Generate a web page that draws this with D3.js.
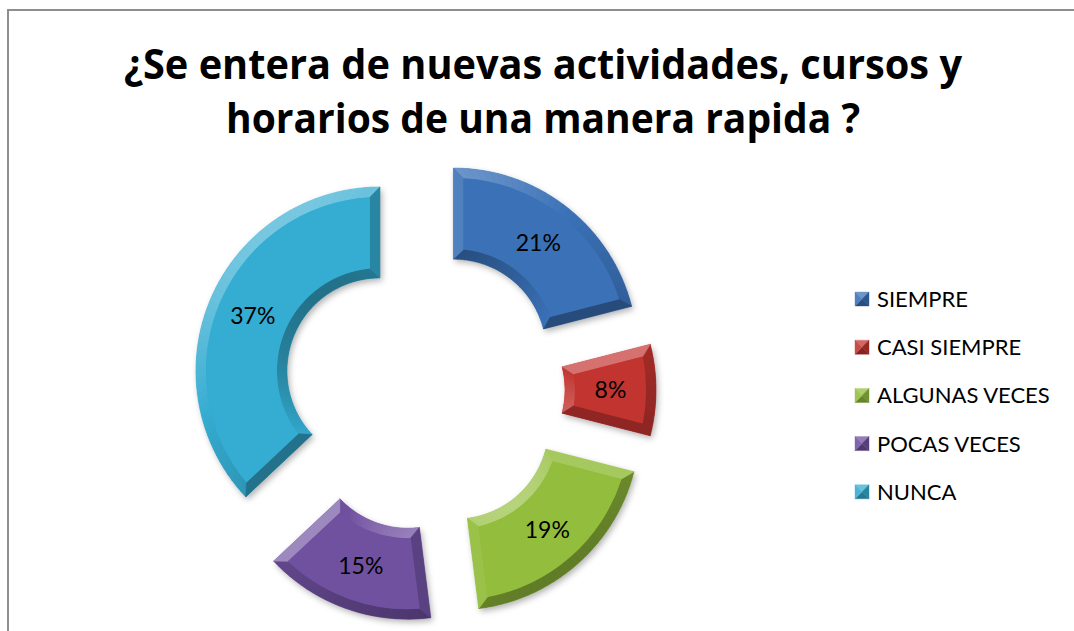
<!DOCTYPE html>
<html>
<head>
<meta charset="utf-8">
<script src="https://cdn.jsdelivr.net/npm/d3@7"></script>
<style>
  body { margin: 0; background: #fff; }
  svg { display: block; font-family: Lato, "Open Sans", sans-serif; }
</style>
</head>
<body>
<svg id="chart" width="1074" height="631"></svg>
<script>
// data
var categories = ["SIEMPRE", "CASI SIEMPRE", "ALGUNAS VECES", "POCAS VECES", "NUNCA"];
var values = [21, 8, 19, 15, 37];
var titleLines = ["¿Se entera de nuevas actividades, cursos y", "horarios de una manera rapida ?"];
var palette = ["#3a71b7", "#c2342f", "#93bd3c", "#7051a0", "#35acd1"];

var svg = d3.select("#chart");
var W = 1074, H = 631;

svg.append("rect").attr("width", W).attr("height", H).attr("fill", "#fff");
// chart area border (runs off the right and bottom of the shot)
svg.append("rect")
    .attr("x", 8).attr("y", 10)
    .attr("width", 1200).attr("height", 800)
    .attr("fill", "none").attr("stroke", "#8e8e8e").attr("stroke-width", 2);

// title
var title = svg.append("g");
title.selectAll("text")
    .data(titleLines)
  .enter().append("text")
    .attr("x", 543)
    .attr("y", function(d, i) { return 79 + i * 54; })
    .attr("text-anchor", "middle")
    .attr("font-family", "'Open Sans', Lato, sans-serif")
    .attr("font-weight", "bold")
    .attr("font-size", 41)
    .attr("textLength", function(d, i) { return i == 0 ? 838 : 634; })
    .attr("lengthAdjust", "spacingAndGlyphs")
    .attr("fill", "#000")
    .text(function(d) { return d; });

// drop shadow under slices
var defs = svg.append("defs");
var f = defs.append("filter").attr("id", "shadow")
    .attr("x", "-20%").attr("y", "-20%").attr("width", "140%").attr("height", "140%");
f.append("feDropShadow").attr("dx", 2).attr("dy", 3).attr("stdDeviation", 3)
    .attr("flood-color", "#000").attr("flood-opacity", 0.3);

var cx = 424, cy = 390,
    R = 184, r = 93,
    explode = 48,
    bev = 10;

var pie = d3.pie().sort(null).value(function(d) { return d; });
var arc = d3.arc().innerRadius(r).outerRadius(R);
var slices = pie(values);

var L = (function() {
    var v = [-0.45, -0.7, 0.58], n = Math.hypot(v[0], v[1], v[2]);
    return [v[0] / n, v[1] / n, v[2] / n];
})();

function shade(base, nx, ny) {
    var s = 0.72, c = 0.69;
    var dot = nx * s * L[0] + ny * s * L[1] + c * L[2];
    var k = dot - L[2];
    if (k > 0) return d3.interpolateRgb(base, "#fff")(Math.min(0.6, k * 0.8));
    return d3.interpolateRgb(base, "#000")(Math.min(0.38, -k * 0.45));
}

function P(rad, a) { return [rad * Math.sin(a), -rad * Math.cos(a)]; }

var g = svg.append("g").attr("transform", "translate(" + cx + "," + cy + ")");

var sg = g.selectAll("g.slice")
    .data(slices)
  .enter().append("g")
    .attr("class", "slice")
    .attr("transform", function(d) {
        var m = (d.startAngle + d.endAngle) / 2;
        return "translate(" + (explode * Math.sin(m)) + "," + (-explode * Math.cos(m)) + ")";
    });

sg.append("path")
    .attr("d", arc)
    .attr("fill", function(d, i) { return palette[i]; })
    .attr("filter", "url(#shadow)");

sg.each(function(d, i) {
    var el = d3.select(this), base = palette[i];
    var a0 = d.startAngle, a1 = d.endAngle;
    var dOut = Math.asin(bev / (R - bev)), dIn = Math.asin(bev / (r + bev));
    var o0 = a0 + dOut, o1 = a1 - dOut, i0 = a0 + dIn, i1 = a1 - dIn;
    var n = Math.max(6, Math.ceil((a1 - a0) / 0.04));

    function poly(pts, col) {
        el.append("path")
            .attr("d", "M" + pts.map(function(p) { return p.join(","); }).join("L") + "Z")
            .attr("fill", col).attr("stroke", col).attr("stroke-width", 0.6);
    }

    // curved outer and inner facets, cut into strips so the light changes along the curve
    for (var k = 0; k < n; k++) {
        var t0 = k / n, t1 = (k + 1) / n, tm = (t0 + t1) / 2;
        var am = a0 + (a1 - a0) * tm;
        poly([P(R, a0 + (a1 - a0) * t0), P(R, a0 + (a1 - a0) * t1),
              P(R - bev, o0 + (o1 - o0) * t1), P(R - bev, o0 + (o1 - o0) * t0)],
             shade(base, Math.sin(am), -Math.cos(am)));
        poly([P(r, a0 + (a1 - a0) * t0), P(r, a0 + (a1 - a0) * t1),
              P(r + bev, i0 + (i1 - i0) * t1), P(r + bev, i0 + (i1 - i0) * t0)],
             shade(base, -Math.sin(am), Math.cos(am)));
    }
    // straight end facets
    poly([P(r, a0), P(R, a0), P(R - bev, o0), P(r + bev, i0)],
         shade(base, -Math.cos(a0), -Math.sin(a0)));
    poly([P(R, a1), P(r, a1), P(r + bev, i1), P(R - bev, o1)],
         shade(base, Math.cos(a1), Math.sin(a1)));

    // flat top face
    var p = d3.path();
    var s0 = P(R - bev, o0);
    p.moveTo(s0[0], s0[1]);
    p.arc(0, 0, R - bev, o0 - Math.PI / 2, o1 - Math.PI / 2, false);
    var e0 = P(r + bev, i1);
    p.lineTo(e0[0], e0[1]);
    p.arc(0, 0, r + bev, i1 - Math.PI / 2, i0 - Math.PI / 2, true);
    p.closePath();
    el.append("path").attr("d", p.toString()).attr("fill", base);
});

sg.append("text")
    .attr("transform", function(d) { return "translate(" + arc.centroid(d) + ")"; })
    .attr("dy", "0.36em")
    .attr("text-anchor", "middle")
    .attr("font-size", 23)
    .attr("fill", "#000")
    .text(function(d) { return d3.format(".0%")(d.value / d3.sum(values)); });

// legend
var lg = svg.append("g").attr("transform", "translate(855,299)");
var rows = lg.selectAll("g")
    .data(categories)
  .enter().append("g")
    .attr("transform", function(d, i) { return "translate(0," + (i * 48.2) + ")"; });

rows.each(function(d, i) {
    var el = d3.select(this), base = palette[i], s = 14, h = s / 2;
    var tris = [
        [[0, -h], [s, -h], [h, 0], shade(base, 0, -1)],
        [[s, -h], [s, h], [h, 0], shade(base, 1, 0)],
        [[s, h], [0, h], [h, 0], shade(base, 0, 1)],
        [[0, h], [0, -h], [h, 0], shade(base, -1, 0)]
    ];
    tris.forEach(function(t) {
        el.append("path")
            .attr("d", "M" + t[0] + "L" + t[1] + "L" + t[2] + "Z")
            .attr("fill", t[3]).attr("stroke", t[3]).attr("stroke-width", 0.4);
    });
});

rows.append("text")
    .attr("x", 22)
    .attr("dy", "0.36em")
    .attr("font-size", 22)
    .attr("fill", "#000")
    .text(function(d) { return d; });
</script>
</body>
</html>
